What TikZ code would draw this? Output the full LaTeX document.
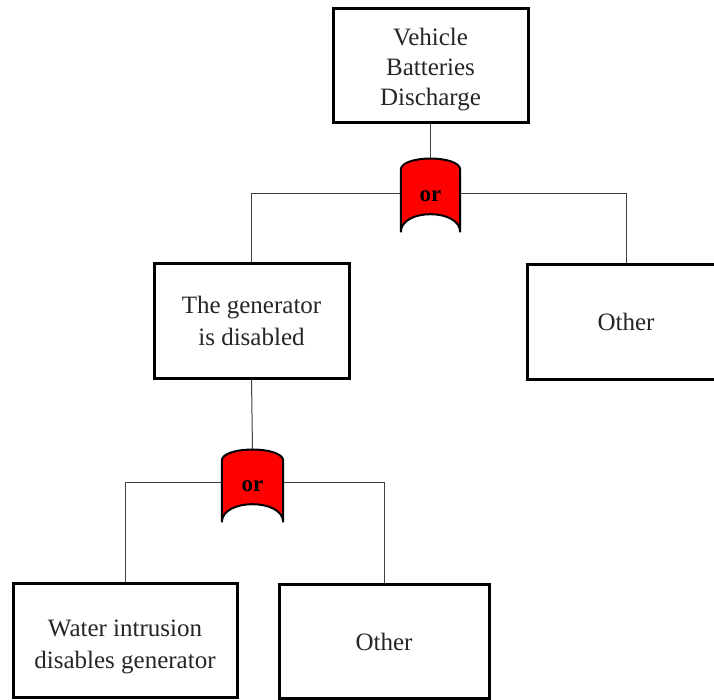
\documentclass[tikz,border=0pt]{standalone}
\usepackage{fontspec}
\setmainfont{Liberation Serif}
\begin{document}
\begin{tikzpicture}[x=1pt,y=-1pt,
  event/.style={draw=black, line width=3pt, fill=white, align=center,
    inner sep=0pt, text=black!85, font=\fontsize{25}{30}\selectfont},
  orgate/.style={inner sep=0pt, minimum width=59pt, minimum height=74pt,
    font=\fontsize{23}{26}\selectfont\bfseries, text=black},
  gateshape/.style={draw=black, line width=2pt, fill=red},
  link/.style={draw=black!75, line width=1pt}]
\useasboundingbox (0,0) rectangle (714,700);
\clip (0,0) rectangle (714,700);

\coordinate (g1c) at (430.5,195);
\coordinate (g2c) at (252.5,485.5);

% events
\node[event, minimum width=195pt, minimum height=114pt] (top) at (430.5,66)
  {\rule{0pt}{25pt}Vehicle\\Batteries\\Discharge};
\node[event, minimum width=195pt, minimum height=114pt,
  font=\fontsize{25}{32}\selectfont] (gen) at (251.5,321)
  {The generator\\is disabled};
\node[event, minimum width=198pt, minimum height=114pt] (oth1) at (626,322)
  {Other};
\node[event, minimum width=224pt, minimum height=114pt,
  font=\fontsize{25}{32}\selectfont] (water) at (125,640.5)
  {\rule{0pt}{29pt}Water intrusion\\disables generator};
\node[event, minimum width=210pt, minimum height=114pt] (oth2) at (384,641)
  {\rule{0pt}{20pt}Other};

% gate anchors (shapes drawn below)
\node[orgate] (g1) at (g1c) {};
\node[orgate, minimum width=61pt, minimum height=73pt] (g2) at (g2c) {};

% connectors
\draw[link] (top.south) -- (g1.north);
\draw[link] ([yshift=1.5pt]g1.west) -| (gen.north);
\draw[link] ([yshift=1.5pt]g1.east) -| (oth1.north);
\draw[link] (gen.south) -- (g2.north);
\draw[link] ([yshift=3pt]g2.west) -| (water.north);
\draw[link] ([yshift=3pt]g2.east) -| (oth2.north);

% OR gates
\foreach \g in {g1,g2}{
  \draw[gateshape]
    ([yshift=-12pt]\g.north west)
      .. controls ([yshift=3pt]\g.north west) and ([yshift=3pt]\g.north east)
      .. ([yshift=-12pt]\g.north east)
    -- (\g.south east)
      .. controls ([yshift=24pt]\g.south east) and ([yshift=24pt]\g.south west)
      .. (\g.south west)
    -- cycle;
}
\node[orgate] (or1) at ([yshift=-1pt]g1c) {or};
\node[orgate] (or2) at ([yshift=-1pt]g2c) {or};
\end{tikzpicture}
\end{document}
